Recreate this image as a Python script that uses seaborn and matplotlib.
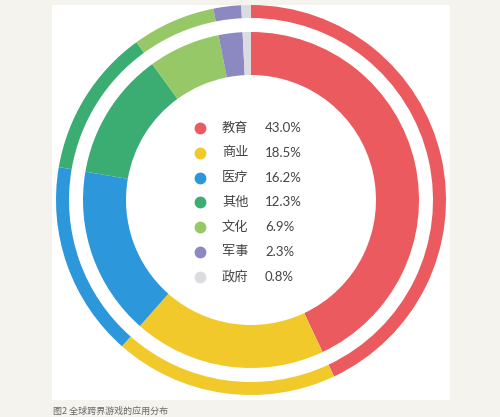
import matplotlib
matplotlib.use("Agg")
import matplotlib.pyplot as plt
import seaborn as sns
from matplotlib.patches import Rectangle

categories = ["教育", "商业", "医疗", "其他", "文化", "军事", "政府"]
values = [43.0, 18.5, 16.2, 12.3, 6.9, 2.3, 0.8]
colors = ["#EA5A5F", "#F2C92B", "#2C97DB", "#3BAD73", "#96C867", "#8C88C2", "#DCDCE0"]
caption = "图2 全球跨界游戏的应用分布"

sns.set_theme(style="white")
plt.rcParams['font.family'] = ['Noto Sans CJK SC', 'DejaVu Sans']

W, H = 500, 417
fig = plt.figure(figsize=(W / 100, H / 100), dpi=100)
fig.patch.set_facecolor("#F4F3EE")

bg = fig.add_axes([0, 0, 1, 1], zorder=-5)
bg.set_xlim(0, W)
bg.set_ylim(H, 0)
bg.axis("off")
bg.add_patch(Rectangle((52, 5), 450 - 52, 400 - 5, facecolor="white",
                       edgecolor="none"))

cx, cy, R = 251, 200, 195
ax = fig.add_axes([(cx - R) / W, (H - cy - R) / H, 2 * R / W, 2 * R / H], zorder=2)
ax.set_facecolor("none")
pal = sns.color_palette(colors)

ax.pie(values, colors=pal, startangle=90, counterclock=False, radius=1.0,
       wedgeprops=dict(width=13 / R, edgecolor="none"))
ax.pie(values, colors=pal, startangle=90, counterclock=False, radius=168 / R,
       wedgeprops=dict(width=(168 - 125) / R, edgecolor="none"))
ax.set_xlim(-1, 1)
ax.set_ylim(-1, 1)
ax.set_aspect("equal")
ax.axis("off")

y0, dy = 128, 24.8
for i, (c, v, col) in enumerate(zip(categories, values, colors)):
    y = (H - (y0 + i * dy)) / H
    fig.add_artist(plt.Line2D([200 / W], [y], marker="o", markersize=7.5,
                              color=col, linestyle="none",
                              transform=fig.transFigure, zorder=5))
    fig.text(222 / W, y, c, fontsize=9.5, color="#444444", va="center", ha="left", zorder=5)
    fig.text(265 / W, y, f"{v:.1f}%", fontsize=9.5, color="#444444",
             va="center", ha="left", family=['Lato', 'DejaVu Sans'], zorder=5)

fig.text(53 / W, (H - 411) / H, caption, fontsize=6.5, color="#666666",
         va="center", ha="left")

fig.savefig("out.png", dpi=100, facecolor=fig.get_facecolor())
